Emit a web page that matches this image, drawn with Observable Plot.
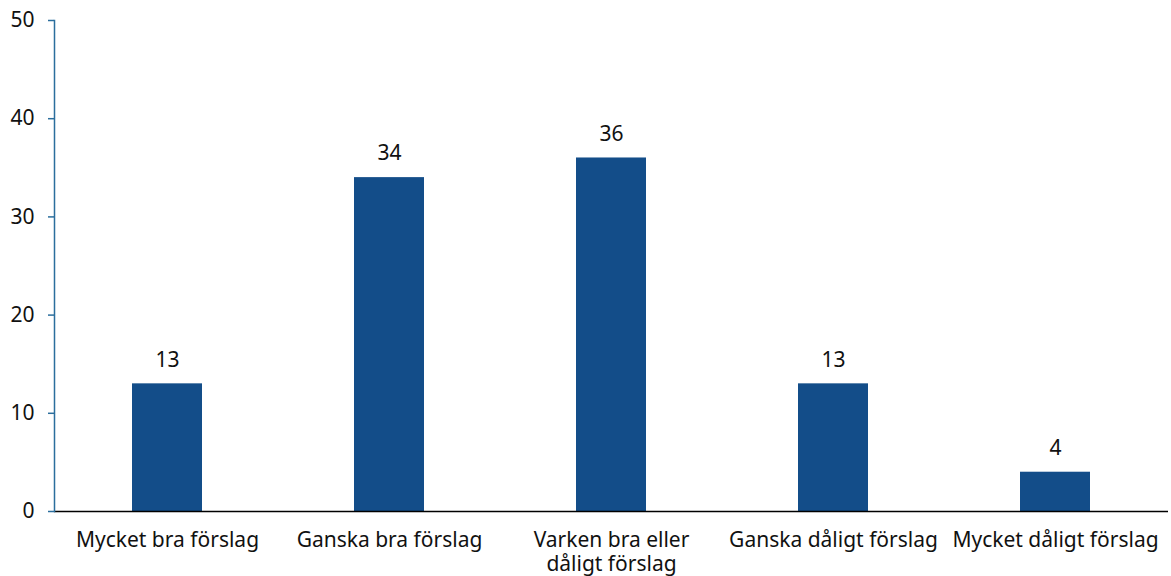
<!DOCTYPE html>
<html>
<head>
<meta charset="utf-8">
<script src="https://cdn.jsdelivr.net/npm/d3@7"></script>
<script src="https://cdn.jsdelivr.net/npm/@observablehq/plot@0.6"></script>
<style>
  html, body { margin: 0; padding: 0; background: #fff; }
  #chart svg { display: block; }
</style>
</head>
<body>
<div id="chart"></div>
<script>
const categories = ["Mycket bra förslag", "Ganska bra förslag", "Varken bra eller\ndåligt förslag", "Ganska dåligt förslag", "Mycket dåligt förslag"];
const values = [13, 34, 36, 13, 4];
const yTicks = [0, 10, 20, 30, 40, 50];

const data = categories.map((c, i) => ({category: c, value: values[i]}));
const barColor = "#134d89";
const axisColor = "#2b6e9d";

const chart = Plot.plot({
  width: 1171,
  height: 576,
  marginLeft: 54,
  marginRight: 3,
  marginTop: 20,
  marginBottom: 65,
  style: {fontFamily: "'Noto Sans', sans-serif", fontSize: "21px", color: "#111", background: "#fff"},
  x: {domain: categories, paddingInner: 0.686, paddingOuter: 0.343, label: null},
  y: {domain: [0, 50], label: null},
  marks: [
    Plot.barY(data, {x: "category", y: "value", fill: barColor}),
    Plot.ruleY([0], {stroke: "#000", strokeWidth: 1.5}),
    Plot.frame({anchor: "left", stroke: axisColor, strokeWidth: 1.5}),
    Plot.axisY(yTicks, {tickSize: 6, tickPadding: 14, stroke: axisColor, strokeWidth: 1.5, fill: "#111", fontSize: 21}),
    Plot.axisX({tickSize: 0, tickPadding: 18, fontSize: 21, lineHeight: 1.15, fill: "#111"}),
    Plot.text(data, {x: "category", y: "value", text: d => String(d.value), dy: -24, fontSize: 21, fill: "#111"})
  ]
});
document.getElementById("chart").appendChild(chart);
</script>
</body>
</html>
